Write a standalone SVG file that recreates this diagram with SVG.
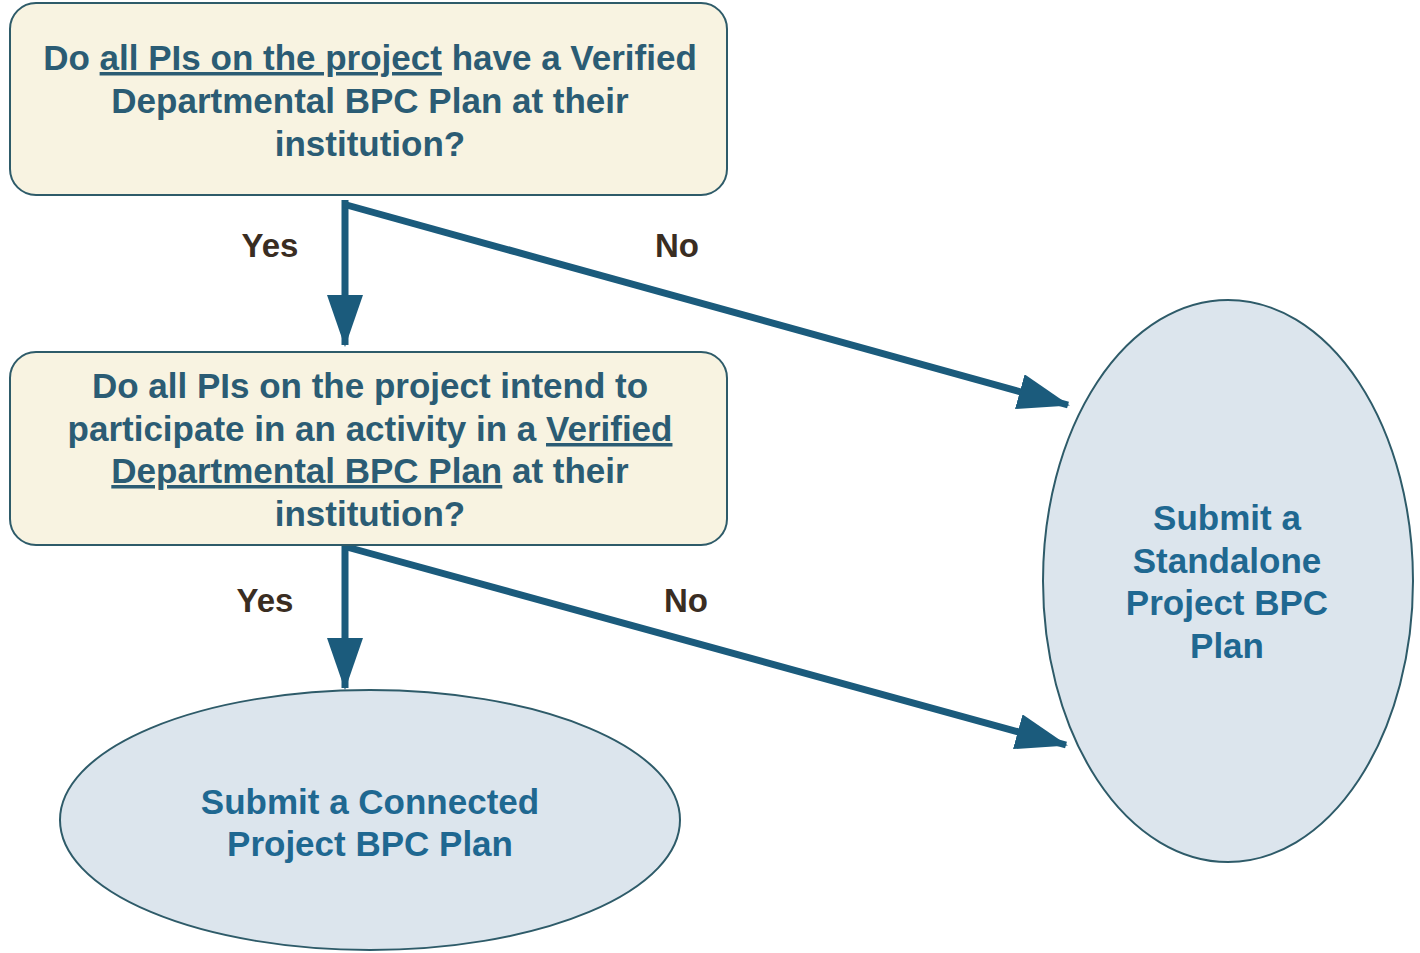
<svg xmlns="http://www.w3.org/2000/svg" width="1420" height="953" viewBox="0 0 1420 953">
<defs>
<style>
.box{fill:#f8f3e1;stroke:#2e5b69;stroke-width:2}
.ell{fill:#dce5ed;stroke:#2e5b69;stroke-width:2}
.q{font-family:"Liberation Sans",Arial,sans-serif;font-weight:bold;font-size:35px;fill:#2b5c74;text-anchor:middle}
.a{font-family:"Liberation Sans",Arial,sans-serif;font-weight:bold;font-size:35px;fill:#1f6891;text-anchor:middle}
.lbl{font-family:"Liberation Sans",Arial,sans-serif;font-weight:bold;font-size:33px;fill:#3a2d22;text-anchor:middle}
.u{text-decoration:underline}
.edge{stroke:#1b5b7c;stroke-width:7;fill:none;marker-end:url(#ah)}
</style>
<marker id="ah" markerUnits="userSpaceOnUse" markerWidth="52" markerHeight="36" refX="50" refY="18" orient="auto">
<path d="M0,0 L52,18 L0,36 z" fill="#1b5b7c"/>
</marker>
</defs>
<rect width="1420" height="953" fill="#ffffff"/>
<g id="connectors">
<line class="edge" x1="345" y1="200" x2="345" y2="345"/>
<line class="edge" x1="343" y1="204" x2="1068" y2="405"/>
<line class="edge" x1="345" y1="544" x2="345" y2="688"/>
<line class="edge" x1="343" y1="546" x2="1066" y2="745"/>
<text class="lbl" x="270" y="257">Yes</text>
<text class="lbl" x="677" y="257">No</text>
<text class="lbl" x="265" y="612">Yes</text>
<text class="lbl" x="686" y="612">No</text>
</g>
<g id="q1">
<rect class="box" x="10" y="3" width="717" height="192" rx="26"/>
<text class="q" x="370" y="70">Do <tspan class="u">all PIs on the project</tspan> have a Verified</text>
<text class="q" x="370" y="113">Departmental BPC Plan at their</text>
<text class="q" x="370" y="156">institution?</text>
</g>
<g id="q2">
<rect class="box" x="10" y="352" width="717" height="193" rx="26"/>
<text class="q" x="370" y="398">Do all PIs on the project intend to</text>
<text class="q" x="370" y="441">participate in an activity in a <tspan class="u">Verified</tspan></text>
<text class="q" x="370" y="483"><tspan class="u">Departmental BPC Plan</tspan> at their</text>
<text class="q" x="370" y="526">institution?</text>
</g>
<g id="connected">
<ellipse class="ell" cx="370" cy="820" rx="310" ry="130"/>
<text class="a" x="370" y="814">Submit a Connected</text>
<text class="a" x="370" y="856">Project BPC Plan</text>
</g>
<g id="standalone">
<ellipse class="ell" cx="1228" cy="581" rx="185" ry="281"/>
<text class="a" x="1227" y="530">Submit a</text>
<text class="a" x="1227" y="573">Standalone</text>
<text class="a" x="1227" y="615">Project BPC</text>
<text class="a" x="1227" y="658">Plan</text>
</g>
</svg>
